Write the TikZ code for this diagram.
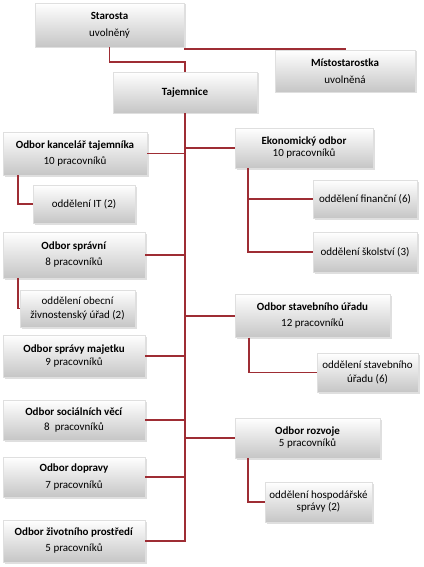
\documentclass[tikz,border=0pt]{standalone}
\usepackage{fontspec}
\setmainfont{Carlito}
\usepackage{xcolor}
\usepackage{tikz}
\usetikzlibrary{shadows}

\definecolor{linkred}{RGB}{158,45,52}

\begin{document}
\begin{tikzpicture}[x=1pt,y=-1pt]

        \tikzstyle{unit}=[draw=gray!25,shading=axis,top color=white,bottom color=gray!45,
            drop shadow={shadow xshift=1.5pt,shadow yshift=-1.5pt,opacity=0.25},
            align=center,inner sep=1pt,font=\fontsize{11}{13}\selectfont]
        \tikzstyle{link}=[draw=linkred,line width=1.4pt]

        \useasboundingbox (0,0) rectangle (423,567);

        %% Vedeni
        \node[unit,minimum width=149pt,minimum height=44pt] (star) at (109.5,25) {\textbf{Starosta}\\[4pt]uvolněný};
        \node[unit,minimum width=140pt,minimum height=42pt] (mist) at (345,71) {\textbf{Místostarostka}\\[4pt]uvolněná};
        \node[unit,minimum width=144pt,minimum height=41pt] (taj) at (185,92.5) {\textbf{Tajemnice}};

        %% Odbory vlevo
        \node[unit,minimum width=144pt,minimum height=43pt] (kanc) at (75,153.5) {\textbf{Odbor kancelář tajemníka}\\[3pt]10 pracovníků};
        \node[unit,minimum width=102pt,minimum height=38pt] (it) at (84,204) {oddělení IT (2)};
        \node[unit,minimum width=142pt,minimum height=46pt] (sprav) at (74,255) {\textbf{Odbor správní}\\[3pt]8 pracovníků};
        \node[unit,minimum width=115pt,minimum height=37pt] (zivn) at (77.5,308.5) {oddělení obecní\\[1pt]živnostenský úřad (2)};
        \node[unit,minimum width=142pt,minimum height=42pt] (majet) at (74,356) {\textbf{Odbor správy majetku}\\9 pracovníků};
        \node[unit,minimum width=142pt,minimum height=40pt] (soc) at (74,420) {\textbf{Odbor sociálních věcí}\\[2pt]8~~pracovníků};
        \node[unit,minimum width=142pt,minimum height=40pt] (dopr) at (74,477) {\textbf{Odbor dopravy}\\[4pt]7 pracovníků};
        \node[unit,minimum width=142pt,minimum height=42pt] (ziv) at (74,541) {\textbf{Odbor životního prostředí}\\[3pt]5 pracovníků};

        %% Odbory vpravo
        \node[unit,minimum width=138pt,minimum height=40pt] (ekon) at (304,148) {\textbf{Ekonomický odbor}\\[-1pt]10 pracovníků};
        \node[unit,minimum width=104pt,minimum height=38pt] (fin) at (365,199) {oddělení finanční (6)};
        \node[unit,minimum width=104pt,minimum height=40pt] (skol) at (365,252) {oddělení školství (3)};
        \node[unit,minimum width=155pt,minimum height=43pt] (stav) at (312.5,316) {\textbf{Odbor stavebního úřadu}\\[3pt]12 pracovníků};
        \node[unit,minimum width=101pt,minimum height=39pt] (stavodd) at (367.5,372.5) {oddělení stavebního\\[1pt]úřadu (6)};
        \node[unit,minimum width=145pt,minimum height=40pt] (rozv) at (307.5,438) {\textbf{Odbor rozvoje}\\[-1pt]5 pracovníků};
        \node[unit,minimum width=107pt,minimum height=40pt] (hosp) at (318.5,502) {oddělení hospodářské\\[-1pt]správy (2)};

        %% Spojnice
        \draw[link] (star.south) -- ++(0,15) -| (taj.north);
        \draw[link] ([yshift=-2pt]star.south east) -| (mist.north);
        \draw[link] (taj.south) |- (ziv.east);

        \draw[link] (kanc.east) -- (kanc.east -| taj.south);
        \draw[link] (sprav.east) -- (sprav.east -| taj.south);
        \draw[link] (majet.east) -- (majet.east -| taj.south);
        \draw[link] (soc.east) -- (soc.east -| taj.south);
        \draw[link] (dopr.east) -- (dopr.east -| taj.south);

        \draw[link] (ekon.west) -- (ekon.west -| taj.south);
        \draw[link] (stav.west) -- (stav.west -| taj.south);
        \draw[link] (rozv.west) -- (rozv.west -| taj.south);

        \draw[link] ([xshift=15pt]kanc.south west) |- (it.west);
        \draw[link] ([xshift=15pt]sprav.south west) |- (zivn.west);
        \draw[link] ([xshift=13pt]ekon.south west) |- (fin.west);
        \draw[link] ([xshift=13pt]ekon.south west) |- (skol.west);
        \draw[link] ([xshift=14pt]stav.south west) |- (stavodd.west);
        \draw[link] ([xshift=13pt]rozv.south west) |- (hosp.west);

\end{tikzpicture}
\end{document}
